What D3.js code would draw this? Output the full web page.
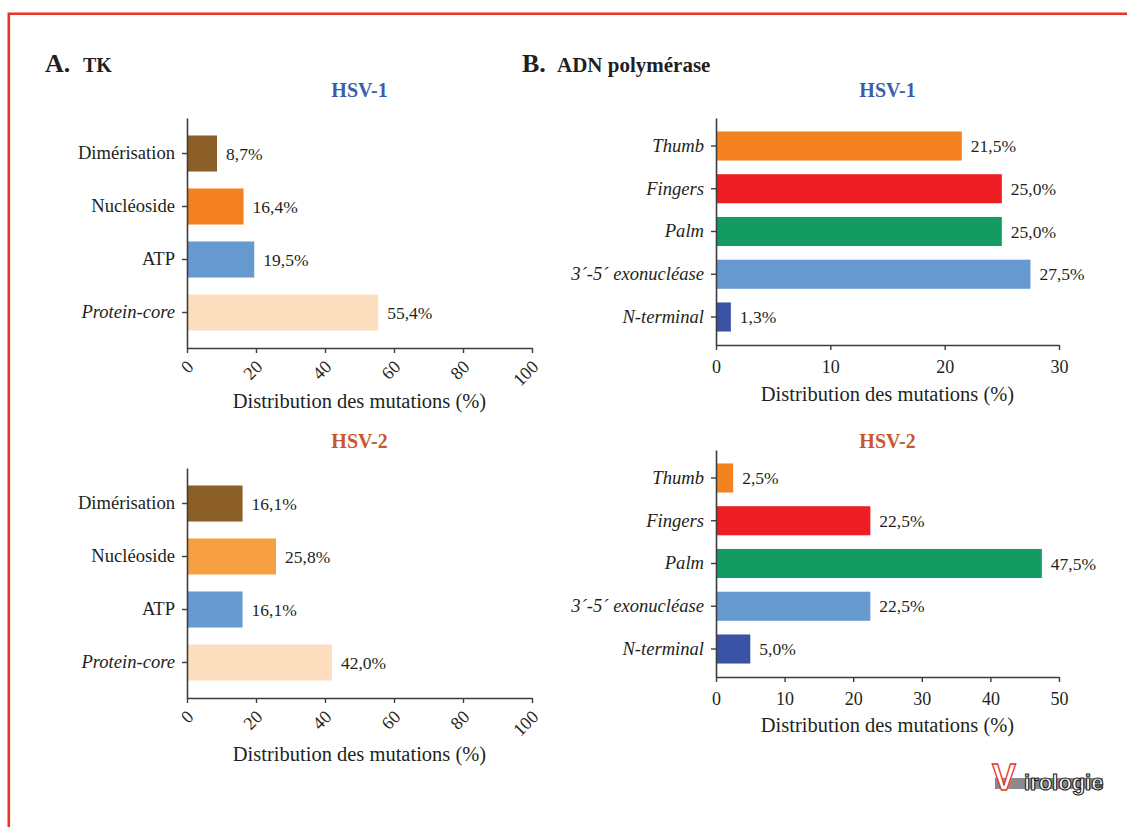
<!DOCTYPE html>
<html lang="fr">
<head>
<meta charset="utf-8">
<title>Distribution des mutations – TK et ADN polymérase</title>
<script src="https://cdn.jsdelivr.net/npm/d3@7"></script>
<style>
  html, body { margin: 0; padding: 0; background: #ffffff; }
  svg { display: block; }
  text { font-family: "Liberation Serif", "Times New Roman", serif; fill: #231f20; }
</style>
</head>
<body>
<svg id="fig" width="1127" height="827"></svg>
<script>
// ---- Data ----------------------------------------------------------
const tkCategories = ["Dimérisation", "Nucléoside", "ATP", "Protein-core"];
const tkItalic = ["Protein-core"];
const tkHsv1 = [8.7, 16.4, 19.5, 55.4];
const tkHsv2 = [16.1, 25.8, 16.1, 42.0];
const tkTicks = [0, 20, 40, 60, 80, 100];
const tkColorsHsv1 = ["#8c5f28", "#f48120", "#6699d0", "#fddfc0"];
const tkColorsHsv2 = ["#8c5f28", "#f6a043", "#6699d0", "#fddfc0"];

const polCategories = ["Thumb", "Fingers", "Palm", "3´-5´ exonucléase", "N-terminal"];
const polItalic = polCategories;
const polHsv1 = [21.5, 25.0, 25.0, 27.5, 1.3];
const polHsv2 = [2.5, 22.5, 47.5, 22.5, 5.0];
const polTicksHsv1 = [0, 10, 20, 30];
const polTicksHsv2 = [0, 10, 20, 30, 40, 50];
const polColors = ["#f58220", "#ee1d24", "#149b64", "#6699d0", "#3a53a4"];

const seriesTitles = ["HSV-1", "HSV-2"];
const titleColors = ["#3c5ea8", "#c8572a"];
const axisTitle = "Distribution des mutations (%)";

// ---- Helpers -------------------------------------------------------
const svg = d3.select("#fig");
const fmtPct = v => d3.format(".1f")(v).replace(".", ",") + "%";
const axisColor = "#3d3d3d";

function barChart(opt) {
  const g = svg.append("g");
  const x = d3.scaleLinear().domain([0, opt.max]).range([opt.x0, opt.x1]);
  const y = d3.scaleBand()
    .domain(opt.categories)
    .range([opt.yTop, opt.yBottom])
    .paddingInner(0.32)
    .paddingOuter(opt.outer);

  // bars
  g.selectAll("rect.bar")
    .data(opt.values)
    .join("rect")
    .attr("class", "bar")
    .attr("x", x(0))
    .attr("y", (d, i) => y(opt.categories[i]))
    .attr("width", d => x(d) - x(0))
    .attr("height", y.bandwidth())
    .attr("fill", (d, i) => opt.colors[i]);

  // value labels
  g.selectAll("text.val")
    .data(opt.values)
    .join("text")
    .attr("class", "val")
    .attr("x", d => x(d) + 9)
    .attr("y", (d, i) => y(opt.categories[i]) + y.bandwidth() / 2)
    .attr("dy", "0.35em")
    .style("font-size", "17.5px")
    .text(fmtPct);

  // category axis
  const ya = g.append("g")
    .attr("transform", `translate(${opt.x0},0)`)
    .call(d3.axisLeft(y).tickSize(5).tickSizeOuter(0).tickPadding(7));
  ya.select(".domain").attr("stroke", axisColor).attr("stroke-width", 1.6);
  ya.selectAll(".tick line").attr("stroke", axisColor).attr("stroke-width", 1.4);
  ya.selectAll(".tick text")
    .style("font-family", '"Liberation Serif", "Times New Roman", serif')
    .style("font-size", "18.6px")
    .style("font-style", d => opt.italic.includes(d) ? "italic" : "normal")
    .attr("fill", "#231f20");

  // value axis
  const xa = g.append("g")
    .attr("transform", `translate(0,${opt.yBottom})`)
    .call(d3.axisBottom(x).tickValues(opt.ticks).tickSize(5).tickSizeOuter(0).tickFormat(d3.format("d")));
  xa.select(".domain").attr("stroke", axisColor).attr("stroke-width", 1.6);
  xa.selectAll(".tick line").attr("stroke", axisColor).attr("stroke-width", 1.4);
  const tt = xa.selectAll(".tick text")
    .style("font-family", '"Liberation Serif", "Times New Roman", serif')
    .style("font-size", "18px")
    .attr("fill", "#231f20");
  if (opt.rotate) {
    tt.attr("x", 0).attr("y", 0).attr("dy", 0)
      .attr("text-anchor", "end")
      .attr("transform", "translate(7,20) rotate(-45)");
  } else {
    tt.attr("y", 28).attr("dy", 0);
  }

  // axis title
  g.append("text")
    .attr("x", (opt.x0 + opt.x1) / 2)
    .attr("y", opt.titleY)
    .attr("text-anchor", "middle")
    .style("font-size", "20.5px")
    .text(axisTitle);

  // series heading
  g.append("text")
    .attr("x", (opt.x0 + opt.x1) / 2)
    .attr("y", opt.headY)
    .attr("text-anchor", "middle")
    .style("font-size", "20px")
    .style("font-weight", "bold")
    .style("fill", titleColors[opt.series])
    .text(seriesTitles[opt.series]);
}

// ---- Frame ---------------------------------------------------------
svg.append("path")
  .attr("d", "M8.8,840 L8.8,13.8 L1140,13.8")
  .attr("fill", "none")
  .attr("stroke", "#ec3227")
  .attr("stroke-width", 2.6);

// ---- Panel headings ------------------------------------------------
svg.append("text").attr("x", 45).attr("y", 72)
  .style("font-size", "26px").style("font-weight", "bold").text("A.");
svg.append("text").attr("x", 83).attr("y", 72)
  .style("font-size", "20px").style("font-weight", "bold").text("TK");
svg.append("text").attr("x", 522).attr("y", 72)
  .style("font-size", "26px").style("font-weight", "bold").text("B.");
svg.append("text").attr("x", 557).attr("y", 72)
  .style("font-size", "21px").style("font-weight", "bold").text("ADN polymérase");

// ---- Charts --------------------------------------------------------
barChart({ categories: tkCategories, values: tkHsv1, colors: tkColorsHsv1, italic: tkItalic,
  max: 100, ticks: tkTicks, x0: 187, x1: 532, yTop: 118, yBottom: 348, outer: 0.33,
  rotate: true, titleY: 408, headY: 97, series: 0 });
barChart({ categories: tkCategories, values: tkHsv2, colors: tkColorsHsv2, italic: tkItalic,
  max: 100, ticks: tkTicks, x0: 187, x1: 532, yTop: 468, yBottom: 698, outer: 0.33,
  rotate: true, titleY: 761, headY: 448, series: 1 });
barChart({ categories: polCategories, values: polHsv1, colors: polColors, italic: polItalic,
  max: 30, ticks: polTicksHsv1, x0: 716, x1: 1059, yTop: 118, yBottom: 345, outer: 0.315,
  rotate: false, titleY: 401, headY: 97, series: 0 });
barChart({ categories: polCategories, values: polHsv2, colors: polColors, italic: polItalic,
  max: 50, ticks: polTicksHsv2, x0: 716, x1: 1059, yTop: 450, yBottom: 677, outer: 0.315,
  rotate: false, titleY: 732, headY: 448, series: 1 });

// ---- Journal logo --------------------------------------------------
const logo = svg.append("g");
logo.append("rect").attr("x", 995).attr("y", 778).attr("width", 108).attr("height", 11)
  .attr("fill", "#8a8a8d");
logo.append("text").attr("x", 992).attr("y", 790)
  .style("font-family", '"Liberation Sans", Arial, sans-serif')
  .style("font-size", "36px").style("font-weight", "bold")
  .style("fill", "#ffffff").attr("stroke", "#e8362a").attr("stroke-width", 1.3)
  .text("V");
logo.append("text").attr("x", 1024).attr("y", 790)
  .style("font-family", '"Liberation Sans", Arial, sans-serif')
  .style("font-size", "22px").style("font-weight", "bold")
  .style("fill", "#ffffff").attr("stroke", "#1e1e1e").attr("stroke-width", 1.1)
  .text("irologie");
</script>
</body>
</html>
